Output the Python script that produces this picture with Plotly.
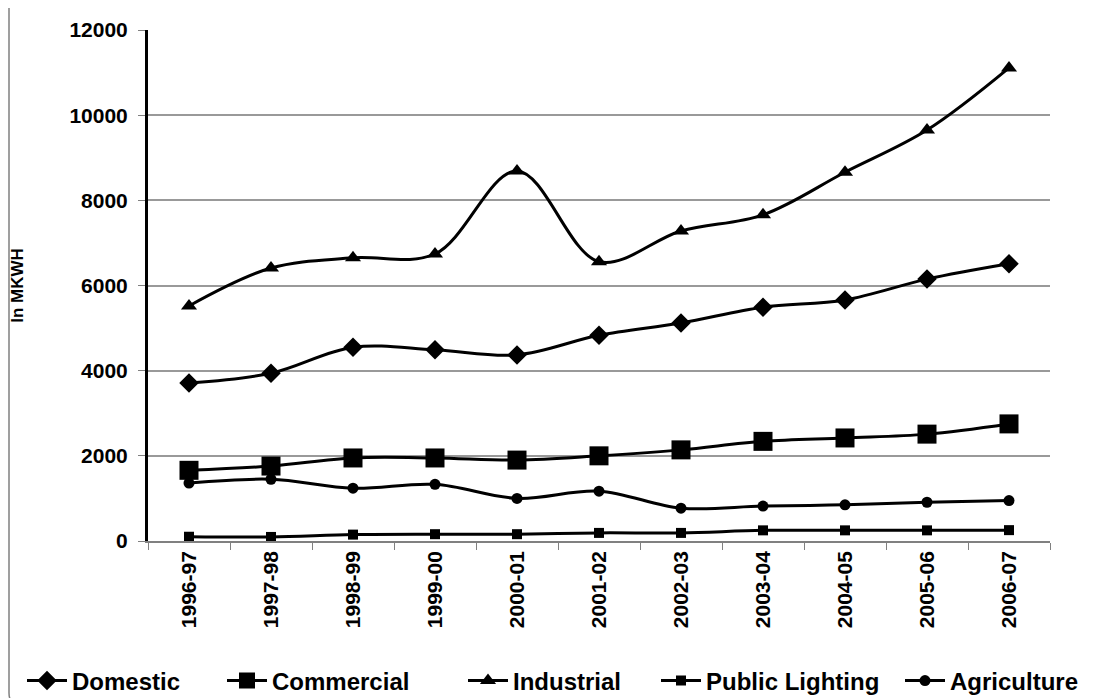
import plotly.graph_objects as go

years = ["1996-97", "1997-98", "1998-99", "1999-00", "2000-01", "2001-02",
         "2002-03", "2003-04", "2004-05", "2005-06", "2006-07"]

domestic = [3710, 3940, 4550, 4490, 4370, 4830, 5120, 5490, 5660, 6150, 6510]
commercial = [1660, 1760, 1950, 1950, 1900, 2000, 2140, 2340, 2420, 2510, 2750]
industrial = [5520, 6410, 6650, 6740, 8690, 6560, 7280, 7660, 8660, 9650, 11110]
public_lighting = [100, 95, 150, 160, 160, 190, 190, 250, 250, 250, 255]
agriculture = [1360, 1450, 1240, 1330, 1000, 1170, 770, 820, 850, 910, 950]

FONT = "Arial, Liberation Sans, sans-serif"

# name, values, marker symbol, marker size, legend left edge (px)
series = [
    ("Domestic", domestic, "diamond", 15, 14),
    ("Commercial", commercial, "square", 19, 214),
    ("Industrial", industrial, "triangle-up", 14, 455),
    ("Public Lighting", public_lighting, "square", 10, 648),
    ("Agriculture", agriculture, "circle", 11, 892),
]

# plot area in pixels: left 140, right 1042, top 22, bottom 533
L, R, T, B = 140, 1042, 22, 533
W, H = R - L, B - T


def px(x):
    return (x - L) / W


def py(y):
    return (B - y) / H


fig = go.Figure()
legends = {}
for i, (name, vals, sym, size, lx) in enumerate(series):
    key = "legend" if i == 0 else f"legend{i + 1}"
    fig.add_trace(go.Scatter(
        x=years, y=vals, name=name, mode="lines+markers", legend=key,
        line=dict(color="black", width=3, shape="spline", smoothing=1),
        marker=dict(symbol=sym, size=size, color="black"),
    ))
    legends[key] = dict(orientation="h", x=px(lx), xanchor="left",
                        y=py(673), yanchor="middle",
                        font=dict(size=24, family=FONT, weight="bold"),
                        itemwidth=40, bgcolor="rgba(0,0,0,0)")

# outer frame: only the left edge and rounded bottom-left corner are visible
x0, y1, rr = 1, 697, 12
path = (f"M {px(x0)},{py(0)} L {px(x0)},{py(y1 - rr)} "
        f"Q {px(x0)},{py(y1)} {px(x0 + rr)},{py(y1)} L {px(1097)},{py(y1)}")

fig.update_layout(
    width=1097, height=698,
    margin=dict(l=L, r=1097 - R, t=T, b=698 - B, autoexpand=False),
    paper_bgcolor="white", plot_bgcolor="white",
    font=dict(family=FONT, color="black"),
    showlegend=True,
    shapes=[dict(type="path", xref="paper", yref="paper", path=path,
                 line=dict(color="#808080", width=1.5), layer="below")],
    **legends,
)

fig.update_xaxes(
    type="category", showgrid=False, showline=True, linecolor="#808080", linewidth=1.5,
    ticks="outside", tickson="boundaries", ticklen=7, tickcolor="#808080",
    tickangle=-90, tickfont=dict(size=21, family=FONT, weight="bold"),
    range=[-0.5, 10.5], automargin=False,
)
fig.update_yaxes(
    range=[0, 12000], dtick=2000, tickformat="d", showgrid=True,
    gridcolor="#999999", gridwidth=1.5,
    showline=True, linecolor="black", linewidth=3,
    ticks="outside", ticklen=7, tickcolor="#808080", ticklabelstandoff=6,
    tickfont=dict(size=21, family=FONT, weight="bold"),
    title=dict(text="In MKWH", font=dict(size=17, family=FONT, weight="bold"), standoff=44),
    zeroline=False, automargin=False,
)

fig.write_html("out.html")
